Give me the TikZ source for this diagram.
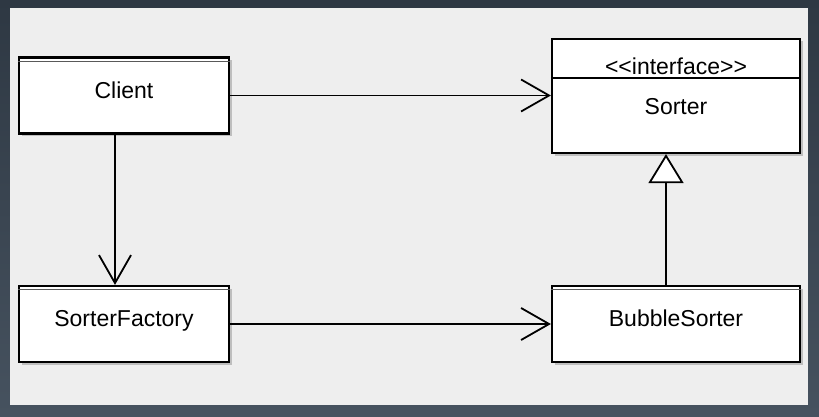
\documentclass[tikz,border=0pt]{standalone}
\usepackage{fontspec}
\setmainfont{Liberation Sans}
\usetikzlibrary{arrows.meta,shadows}
\definecolor{frametop}{HTML}{2E3843}
\definecolor{framebot}{HTML}{46525F}
\definecolor{canvas}{HTML}{EEEEEE}
\tikzset{
  classbox/.style={draw, fill=white, line width=2.2pt, minimum width=210pt, minimum height=76pt,
    text height=17pt, text depth=12pt, font=\fontsize{23}{27}\selectfont,
    drop shadow={shadow xshift=2.5pt, shadow yshift=-2.5pt, opacity=0.35, fill=black!60}},
  classtop/.style={draw=black!65, line width=1pt},
  uses/.style={line width=1.8pt, -{Straight Barb[length=28pt, width=32pt, line width=1.8pt]}},
  realizes/.style={line width=1.8pt, -{Triangle[length=29pt, width=35pt, fill=white, line width=1.8pt]}}
}
\begin{document}
\begin{tikzpicture}[x=1pt, y=1pt]
\shade[top color=frametop, bottom color=framebot] (0,0) rectangle (819,416);
\fill[canvas] (10,11) rectangle (808,408);
\node[classbox] (client) at (124,320.5) {Client};
\node[classbox] (factory) at (124,92) {SorterFactory};
\node[classbox, minimum width=248pt] (bubble) at (676,92) {BubbleSorter};
\node[classbox, minimum width=248pt, minimum height=114pt] (sorter) at (676,320) {};
\node[font=\fontsize{23}{27}\selectfont] (stereo) at (676,349.5) {{<}{<}interface{>}{>}};
\node[font=\fontsize{23}{27}\selectfont] (sortername) at (676,309.5) {Sorter};
\draw[line width=1.2pt] (sorter.west |- 0,338) -- (sorter.east |- 0,338);
\draw[classtop] ([yshift=-5pt]client.north west) -- ([yshift=-5pt]client.north east);
\draw[classtop] ([yshift=-5pt]factory.north west) -- ([yshift=-5pt]factory.north east);
\draw[classtop] ([yshift=-5pt]bubble.north west) -- ([yshift=-5pt]bubble.north east);
\draw[uses] (client.east) -- (client.east -| sorter.west);
\draw[uses] ([xshift=-9pt]client.south) -- ([xshift=-9pt]client.south |- factory.north);
\draw[uses] (factory.east) -- (factory.east -| bubble.west);
\draw[realizes] ([xshift=-10pt]bubble.north) -- ([xshift=-10pt]bubble.north |- sorter.south);
\end{tikzpicture}
\end{document}
